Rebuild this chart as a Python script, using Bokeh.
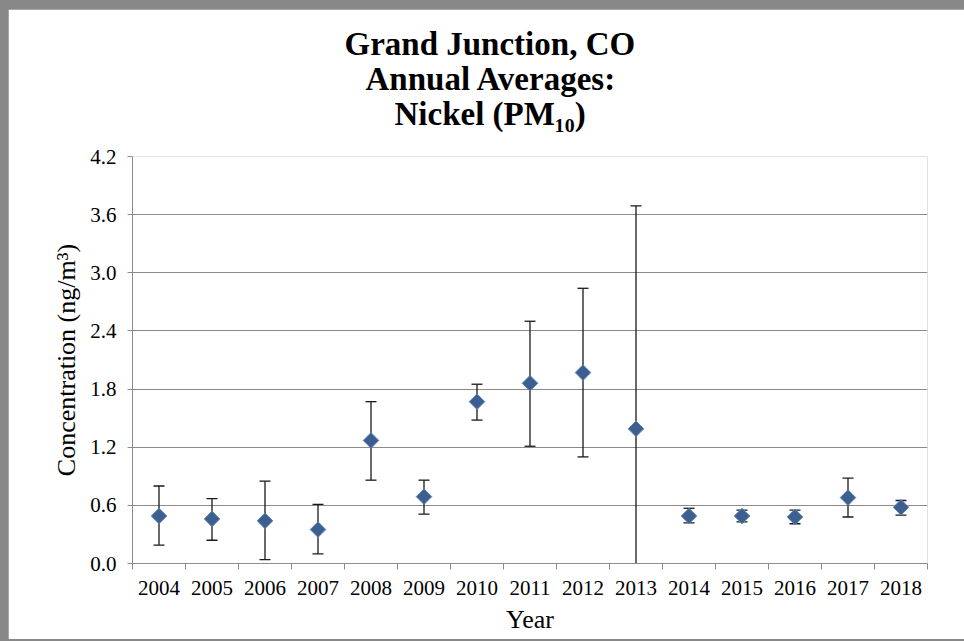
from bokeh.plotting import figure
from bokeh.models import (Range1d, FixedTicker, NumeralTickFormatter, Title,
                          ColumnDataSource, GlobalInlineStyleSheet)
from bokeh.embed import file_html
from bokeh.resources import INLINE
import math

# ---- data ----
years = [2004, 2005, 2006, 2007, 2008, 2009, 2010, 2011, 2012, 2013, 2014, 2015, 2016, 2017, 2018]
means = [0.49, 0.46, 0.44, 0.35, 1.27, 0.69, 1.67, 1.86, 1.97, 1.39, 0.49, 0.49, 0.48, 0.68, 0.58]
upper = [0.80, 0.67, 0.85, 0.61, 1.67, 0.86, 1.85, 2.50, 2.84, 3.69, 0.57, 0.55, 0.55, 0.88, 0.65]
lower = [0.19, 0.24, 0.04, 0.10, 0.86, 0.51, 1.48, 1.21, 1.10, -0.91, 0.42, 0.43, 0.41, 0.48, 0.50]
y_ticks = [0.0, 0.6, 1.2, 1.8, 2.4, 3.0, 3.6, 4.2]
title_lines = ["Grand Junction, CO", "Annual Averages:", "Nickel (PM\u2081\u2080)"]
x_label = "Year"
y_label = "Concentration (ng/m\u00b3)"

src = ColumnDataSource(dict(year=years, mean=means, upper=upper, lower=lower))

FONT = "Liberation Serif"
GRID = "#8c8c8c"

p = figure(frame_width=795, frame_height=407,
           min_border_left=124, min_border_right=37,
           min_border_top=147, min_border_bottom=76,
           x_range=Range1d(years[0] - 0.5, years[-1] + 0.5),
           y_range=Range1d(y_ticks[0], y_ticks[-1]),
           output_backend="svg", toolbar_location=None,
           background_fill_color="white", border_fill_color="white")
p.outline_line_color = None

p.stylesheets = [GlobalInlineStyleSheet(
    css="html{background:#888888;} body{margin:0;padding:9px 0 0 8px;background:#888888;}")]

# title: spacer + three stacked lines (added bottom-up), centred left of the frame centre
p.title = None
p.add_layout(Title(text=" ", text_font_size="1px", standoff=23), "above")
offsets = [212, 233, 262]
for line, off in reversed(list(zip(title_lines, offsets))):
    p.add_layout(Title(text=line, align="left", offset=off,
                       text_font=FONT, text_font_size="33px", text_font_style="bold",
                       text_color="black", standoff=-3), "above")

# x axis
boundaries = [y - 0.5 for y in years] + [years[-1] + 0.5]
xa = p.xaxis[0]
xa.ticker = FixedTicker(ticks=years, minor_ticks=boundaries)
xa.major_tick_out = 0
xa.major_tick_in = 0
xa.minor_tick_out = 6
xa.minor_tick_in = 0
xa.minor_tick_line_color = GRID
xa.axis_line_color = GRID
xa.major_label_text_font = FONT
xa.major_label_text_font_size = "21px"
xa.major_label_text_color = "black"
xa.major_label_standoff = 11
xa.axis_label = x_label
xa.axis_label_text_font = FONT
xa.axis_label_text_font_size = "26px"
xa.axis_label_text_font_style = "normal"
xa.axis_label_text_color = "black"
xa.axis_label_standoff = 7

# y axis
ya = p.yaxis[0]
ya.ticker = FixedTicker(ticks=y_ticks)
ya.formatter = NumeralTickFormatter(format="0.0")
ya.major_tick_out = 5
ya.major_tick_in = 0
ya.minor_tick_out = 0
ya.minor_tick_in = 0
ya.major_tick_line_color = GRID
ya.axis_line_color = GRID
ya.major_label_text_font = FONT
ya.major_label_text_font_size = "21px"
ya.major_label_text_color = "black"
ya.major_label_standoff = 11
ya.axis_label = y_label
ya.axis_label_text_font = FONT
ya.axis_label_text_font_size = "26px"
ya.axis_label_text_font_style = "normal"
ya.axis_label_text_color = "black"
ya.axis_label_standoff = 6

p.xgrid.visible = False
p.ygrid.ticker = FixedTicker(ticks=y_ticks)
p.ygrid.grid_line_color = GRID
p.ygrid.grid_line_width = 1

# error bars
p.segment(x0="year", y0="lower", x1="year", y1="upper", source=src,
          line_color="#1a1a1a", line_width=1.3)
p.scatter(x="year", y="upper", source=src, marker="dash", size=11,
          line_color="#1a1a1a", line_width=1.3)
p.scatter(x="year", y="lower", source=src, marker="dash", size=11,
          line_color="#1a1a1a", line_width=1.3)

# markers
p.scatter(x="year", y="mean", source=src, marker="square", angle=math.pi / 4,
          size=11, fill_color="#3d5f8f", line_color="#5b84bb", line_width=1)

open("out.html", "w").write(file_html(p, INLINE))
